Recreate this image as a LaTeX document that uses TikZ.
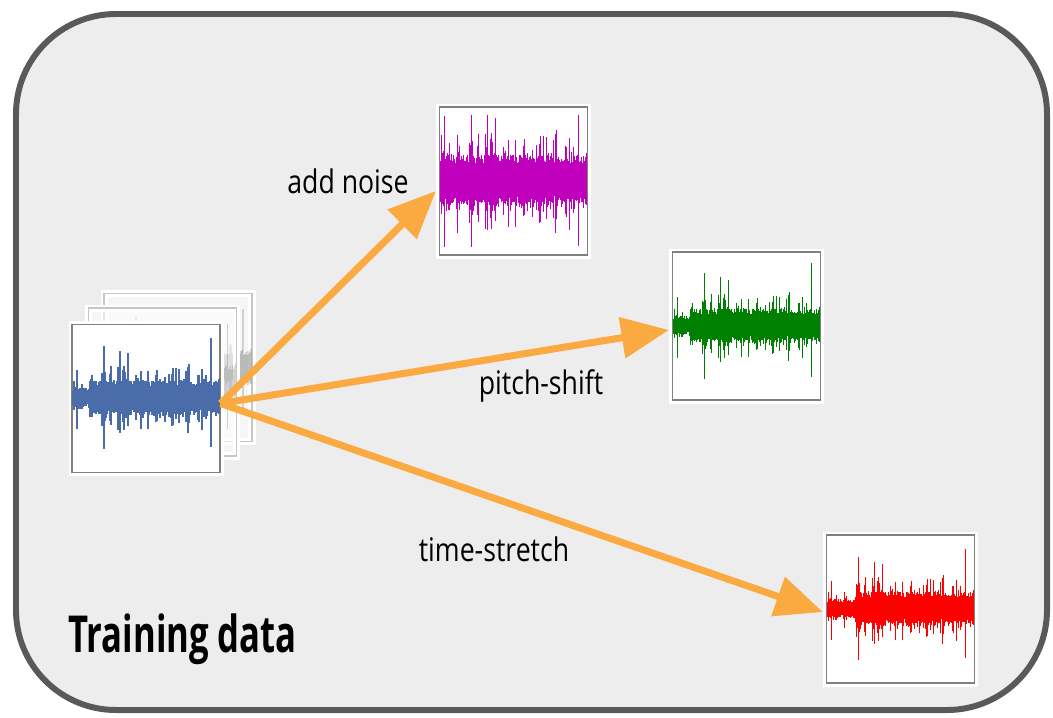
\documentclass[tikz,border=0pt]{standalone}
\usepackage{fontspec}
\setmainfont{Open Sans}[FakeStretch=0.82]
\newfontfamily\titlefont{Open Sans}[FakeStretch=0.68]
\usetikzlibrary{arrows.meta}

\definecolor{framegray}{HTML}{595959}
\definecolor{panelgray}{HTML}{EDEDED}
\definecolor{augorange}{RGB}{250,170,65}
\definecolor{waveblue}{HTML}{4A6DAA}
\definecolor{wavepurple}{HTML}{C000BC}
\definecolor{wavegreen}{HTML}{008000}
\definecolor{wavered}{HTML}{FF0000}

\tikzset{
  card/.style={rectangle, fill=white, draw=gray, line width=0.7pt,
    minimum size=2.96cm, inner sep=0pt,
    preaction={draw=white, line width=4pt}},
  ghost/.style={card, draw=gray!45, fill=white, fill opacity=0.55,
    preaction={draw=white, draw opacity=0.6, line width=4pt}},
  aug/.style={augorange, line width=4pt,
    -{Triangle[length=0.95cm,width=0.8cm]}},
  lbl/.style={font=\fontsize{18.5}{21}\selectfont, inner sep=0pt}
}

% one waveform: #1 centre x, #2 centre y, #3 colour,
% #4 body amplitude, #5 quiet samples at the start, #6 spike height
\newcommand{\wavedraw}[6]{%
  \pgfmathsetseed{2718}
  \foreach \s in {0,...,146}{
    \pgfmathsetmacro\ra{rnd}
    \pgfmathsetmacro\rb{rnd}
    \pgfmathsetmacro\rc{rnd}
    \pgfmathsetmacro\base{(\s<#5 ? 0.55*#4 : #4)}
    \pgfmathsetmacro\body{\base*(0.75+0.35*\ra)}
    \pgfmathsetmacro\burst{(\rb>0.45 ? \base*1.5*((\rb-0.45)/0.55)^2 : 0)}
    \pgfmathsetmacro\spk{(\rb>0.96 ? #6*(\rb-0.96)/0.04 : 0)}
    \pgfmathsetmacro\up{min(\body+\burst+\spk,66)}
    \pgfmathsetmacro\dn{min(\body*(0.8+0.4*\rc)+(\burst+\spk)*(0.5+0.6*\rc),66)}
    \draw[#3, line width=1pt] ({#1-73+\s},{#2-\up}) -- ({#1-73+\s},{#2+\dn});
  }}

\begin{document}
\begin{tikzpicture}[x=0.02cm, y=-0.02cm]
  \useasboundingbox (0,0) rectangle (1053,717);

  % panel
  \draw[framegray, line width=3.4pt, fill=panelgray, rounded corners=2cm]
    (16,14) rectangle (1047,710);

  % stack of training clips
  \node[ghost] (back2) at (178,367.5) {};
  \begin{scope}[opacity=0.3]
    \wavedraw{178}{367.5}{gray}{16}{18}{26}
  \end{scope}
  \node[ghost] (back1) at (162.5,382) {};
  \begin{scope}[opacity=0.35]
    \wavedraw{162.5}{382}{gray}{16}{18}{26}
  \end{scope}
  \node[card] (orig) at (146,398.5) {};
  \wavedraw{146}{398}{waveblue}{16}{18}{28}

  % augmented clips
  \node[card] (noise) at (513.5,181) {};
  \wavedraw{513.5}{181}{wavepurple}{24}{0}{30}
  \node[card] (pitch) at (746.5,326) {};
  \wavedraw{746.5}{326}{wavegreen}{16}{18}{32}
  \node[card] (stretch) at (900.5,609) {};
  \wavedraw{900.5}{609}{wavered}{16}{28}{28}

  % augmentations
  \coordinate (src) at ([yshift=-0.1cm]orig.east);
  \draw[aug] (src) -- ([xshift=-0.06cm,yshift=-0.2cm]noise.west);
  \draw[aug] (src) -- ([xshift=-0.06cm,yshift=-0.08cm]pitch.west);
  \draw[aug] (src) -- ([xshift=-0.06cm,yshift=-0.06cm]stretch.west);

  \node[lbl] (noiselbl) at (348,181) {add noise};
  \node[lbl] (pitchlbl) at (541,386) {pitch-shift};
  \node[lbl] (stretchlbl) at (494,549) {time-stretch};

  \node[anchor=base west, inner sep=0pt, font=\fontsize{29}{34}\titlefont\bfseries]
    (title) at (68,652) {Training data};
\end{tikzpicture}
\end{document}
